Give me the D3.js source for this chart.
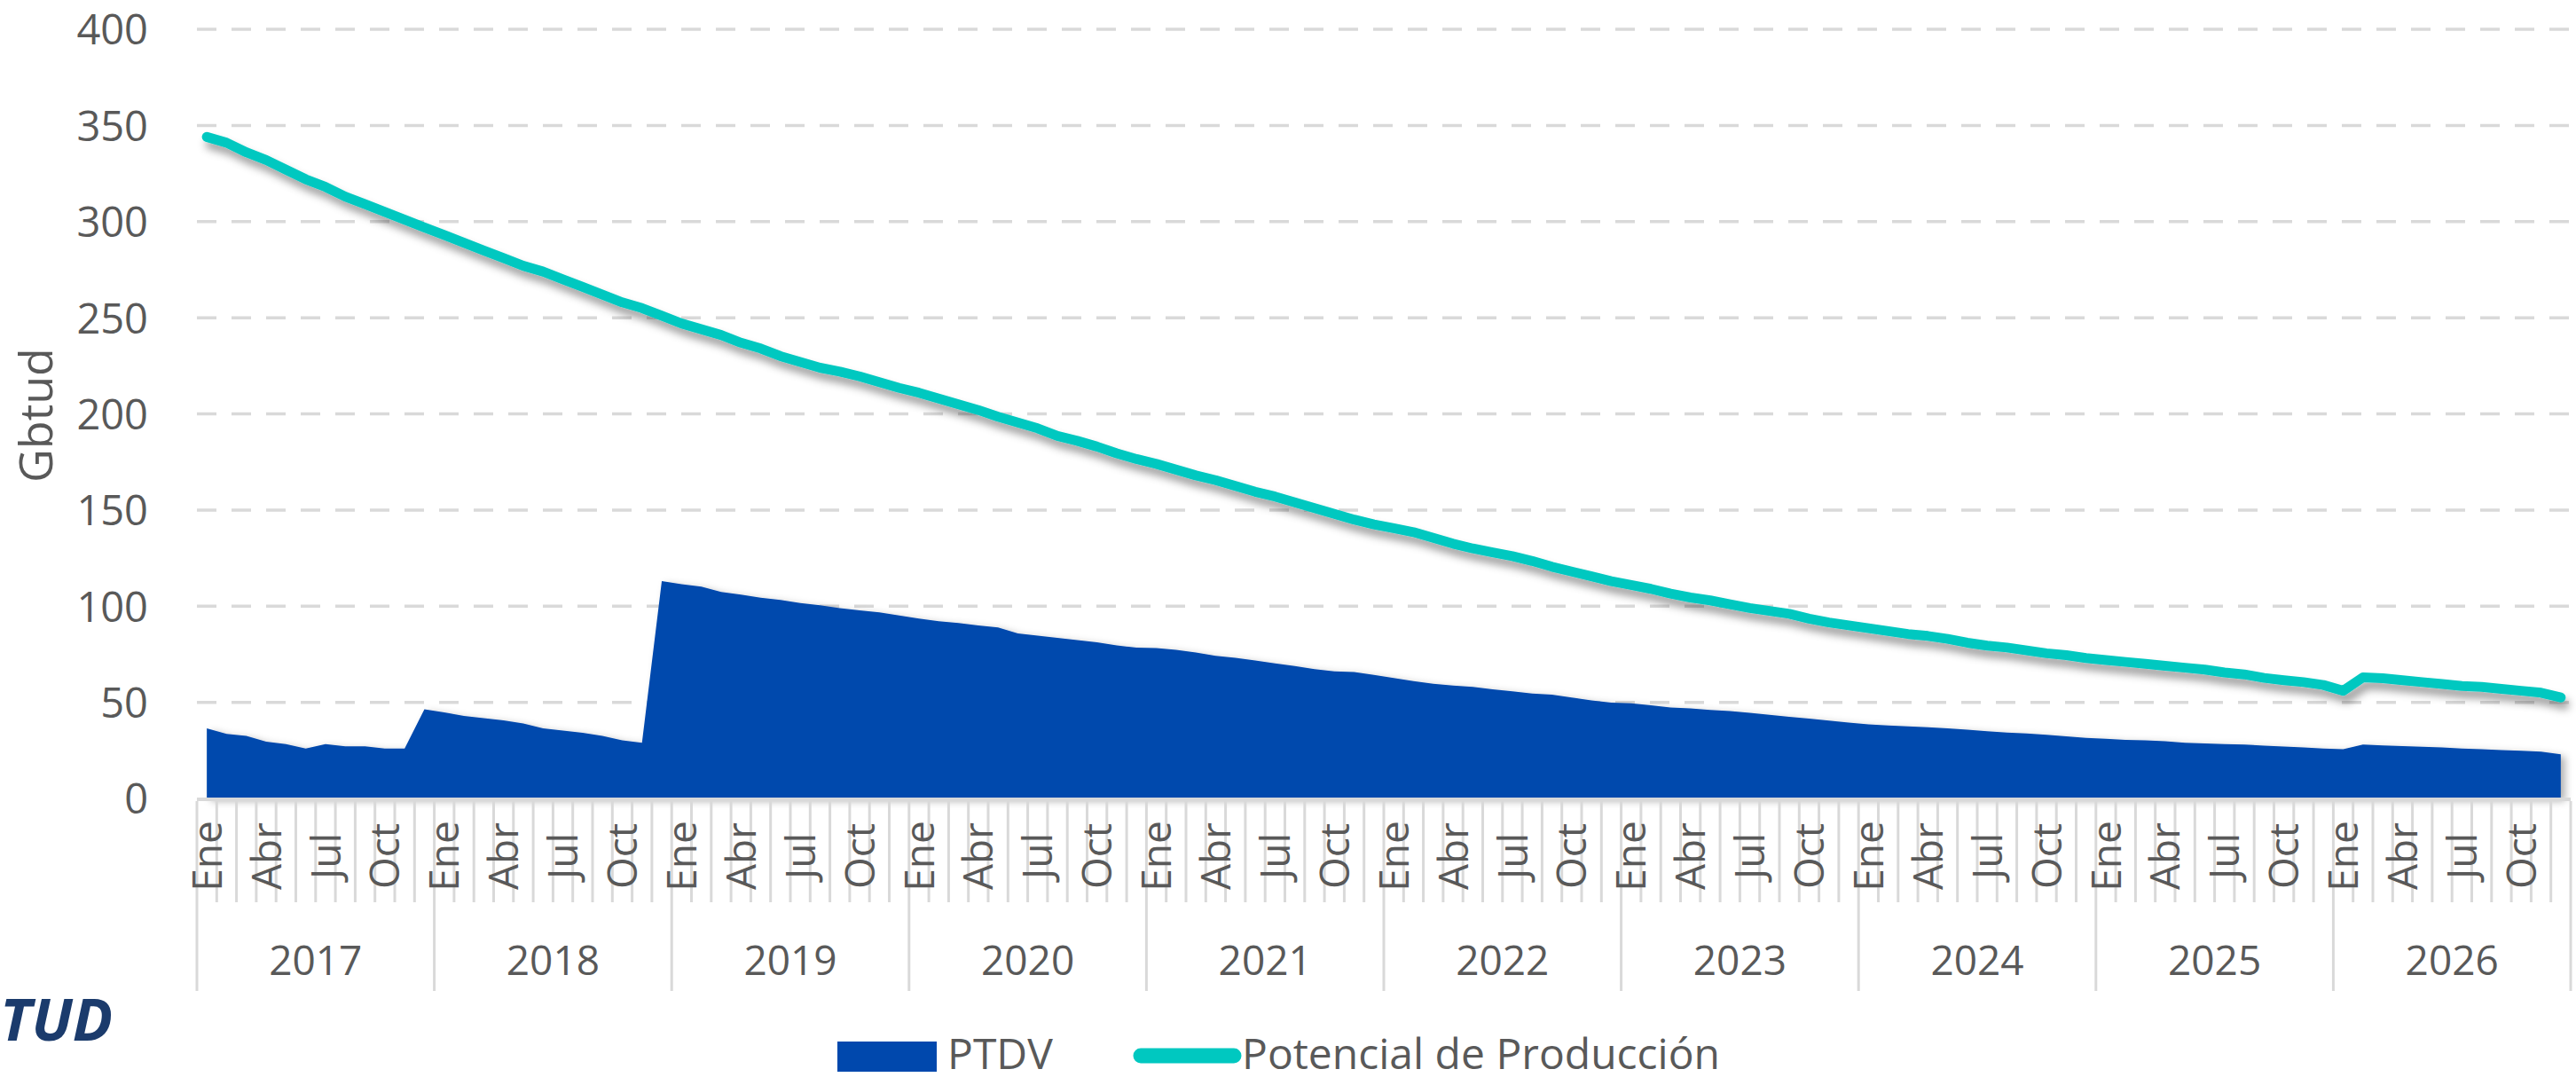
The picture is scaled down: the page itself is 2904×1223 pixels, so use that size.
<!DOCTYPE html>
<html>
<head>
<meta charset="utf-8">
<script src="https://cdn.jsdelivr.net/npm/d3@7"></script>
<style>
  html, body { margin: 0; padding: 0; background: #ffffff; }
  svg { display: block; }
  text { font-family: "Open Sans", "Noto Sans", sans-serif; }
</style>
</head>
<body>
<svg id="chart" width="2904" height="1223"></svg>
<script>
// ---- data ----
const years = [2017, 2018, 2019, 2020, 2021, 2022, 2023, 2024, 2025, 2026];
const monthNames = ["Ene","Feb","Mar","Abr","May","Jun","Jul","Ago","Sep","Oct","Nov","Dic"];
const yTicks = [0, 50, 100, 150, 200, 250, 300, 350, 400];
const seriesNames = ["PTDV", "Potencial de Producción"];
const yTitle = "Gbtud";
const cornerText = "TUD";

// PTDV (area), Gbtud, monthly Ene-2017 .. Dic-2026
const ptdv = [
  36.4, 33.6, 32.5, 29.5, 28.3, 26.0, 28.3, 27.1, 27.1, 26.0, 26.0, 46.4,
  44.8, 42.9, 41.8, 40.6, 39.0, 36.4, 35.3, 34.1, 32.5, 30.2, 29.0, 113.0,
  111.4, 110.2, 107.4, 106.0, 104.4, 103.2, 101.6, 100.5, 99.0, 97.8, 96.8, 95.1,
  93.5, 92.1, 91.2, 90.0, 88.9, 85.8, 84.7, 83.5, 82.4, 81.2, 79.6, 78.4,
  78.2, 77.3, 75.9, 74.2, 73.1, 71.7, 70.3, 68.9, 67.3, 66.1, 65.7, 64.3,
  62.6, 61.0, 59.6, 58.7, 58.0, 56.8, 55.7, 54.5, 54.0, 52.5, 51.0, 49.8,
  49.5, 48.5, 47.3, 46.8, 46.0, 45.5, 44.5, 43.5, 42.5, 41.5, 40.5, 39.5,
  38.5, 38.0, 37.5, 37.0, 36.5, 35.8, 35.0, 34.3, 33.8, 33.1, 32.3, 31.5,
  31.0, 30.5, 30.2, 29.8, 29.0, 28.6, 28.3, 28.0, 27.5, 27.0, 26.5, 26.0,
  25.6, 28.0, 27.6, 27.2, 26.9, 26.5, 26.0, 25.6, 25.2, 24.8, 24.3, 23.0
];

// Potencial de Producción (line), Gbtud
const potencial = [
  344, 341, 336, 332, 327, 322, 318, 313, 309, 305, 301, 297,
  293, 289, 285, 281, 277, 274, 270, 266, 262, 258, 255, 251,
  247, 244, 241, 237, 234, 230, 227, 224, 222, 219.5, 216.5, 213.5,
  211, 208, 205, 202, 198.5, 195.5, 192.5, 188.5, 186, 183, 179.5, 176.5,
  174, 171, 168, 165.5, 162.5, 159.5, 157, 154, 151, 148, 145, 142.5,
  140.5, 138.5, 135.5, 132.5, 130, 128, 126, 123.5, 120.5, 118, 115.5, 113,
  111, 109, 106.5, 104.5, 103, 101, 99, 97.5, 96, 93.5, 91.5, 90,
  88.5, 87, 85.5, 84.5, 83, 81, 79.5, 78.5, 77, 75.5, 74.5, 73,
  72, 71, 70, 69, 68, 67, 65.5, 64.5, 62.7, 61.5, 60.5, 59,
  56, 63, 62.5, 61.5, 60.5, 59.5, 58.5, 58, 57, 56, 55, 52.5
];

// ---- layout ----
const plot = { left: 222, right: 2898, top: 33, bottom: 900 };
const colors = { area: "#0048ad", line: "#00c8c0", grid: "#d9d9d9", text: "#595959", corner: "#1b3b6c" };

const categories = [];
years.forEach(y => monthNames.forEach((m, mi) => categories.push({ year: y, month: m, mi })));
const idx = categories.map((d, i) => i);

const svg = d3.select("#chart");
const defs = svg.append("defs");
const f1 = defs.append("filter").attr("id", "lineShadow")
  .attr("x", "-5%").attr("y", "-20%").attr("width", "110%").attr("height", "150%");
f1.append("feDropShadow").attr("dx", 4).attr("dy", 8).attr("stdDeviation", 5)
  .attr("flood-color", "#000").attr("flood-opacity", 0.38);
const f2 = defs.append("filter").attr("id", "areaShadow")
  .attr("x", "-5%").attr("y", "-10%").attr("width", "110%").attr("height", "130%");
f2.append("feDropShadow").attr("dx", 5).attr("dy", 3).attr("stdDeviation", 4)
  .attr("flood-color", "#000").attr("flood-opacity", 0.3);

const x = d3.scaleBand().domain(idx).range([plot.left, plot.right]).padding(0);
const xc = i => x(i) + x.bandwidth() / 2;
const y = d3.scaleLinear().domain([0, 400]).range([plot.bottom, plot.top]);

// y axis labels
const yAxis = d3.axisLeft(y).tickValues(yTicks).tickSize(0).tickPadding(0);
const gy = svg.append("g").attr("transform", `translate(${plot.left},0)`).call(yAxis);
gy.select(".domain").remove();
gy.selectAll(".tick line").remove();
gy.selectAll(".tick text")
  .attr("x", 167 - plot.left)
  .attr("dy", "0.36em")
  .attr("fill", colors.text)
  .style("font-size", "47px")
  .attr("text-anchor", "end");

// gridlines
svg.append("g").selectAll("line").data(yTicks.filter(v => v > 0)).join("line")
  .attr("x1", plot.left).attr("x2", plot.right)
  .attr("y1", d => y(d)).attr("y2", d => y(d))
  .attr("stroke", colors.grid).attr("stroke-width", 3.5)
  .attr("stroke-dasharray", "22 17");

// area
const area = d3.area().x((d, i) => xc(i)).y0(y(0)).y1(d => y(d));
svg.append("path").datum(ptdv).attr("d", area)
  .attr("fill", colors.area).attr("filter", "url(#areaShadow)");

// x axis baseline
svg.append("line").attr("x1", plot.left).attr("x2", plot.right)
  .attr("y1", y(0) + 1).attr("y2", y(0) + 1)
  .attr("stroke", colors.grid).attr("stroke-width", 4);

// month tick lines (category boundaries)
const boundaries = d3.range(categories.length + 1);
svg.append("g").selectAll("line").data(boundaries).join("line")
  .attr("x1", b => b < categories.length ? x(b) : plot.right)
  .attr("x2", b => b < categories.length ? x(b) : plot.right)
  .attr("y1", y(0) + 3)
  .attr("y2", b => (b % 12 === 0) ? 1117 : 1017)
  .attr("stroke", colors.grid).attr("stroke-width", 3);

// month labels
svg.append("g").selectAll("text").data(categories.map((c, i) => ({ c, i })).filter(d => d.c.mi % 3 === 0))
  .join("text")
  .attr("transform", d => `translate(${xc(d.i)},965) rotate(-90)`)
  .attr("text-anchor", "middle").attr("dy", "0.36em")
  .attr("fill", colors.text).style("font-size", "46px")
  .text(d => d.c.month);

// year labels
svg.append("g").selectAll("text").data(years).join("text")
  .attr("x", (yr, k) => (x(k * 12) + (k === years.length - 1 ? plot.right : x(k * 12 + 12))) / 2)
  .attr("y", 1082).attr("dy", "0.36em")
  .attr("text-anchor", "middle")
  .attr("fill", colors.text).style("font-size", "46px")
  .text(d => d);

// line
const line = d3.line().x((d, i) => xc(i)).y(d => y(d));
svg.append("path").datum(potencial).attr("d", line)
  .attr("fill", "none").attr("stroke", colors.line).attr("stroke-width", 11)
  .attr("stroke-linecap", "round").attr("stroke-linejoin", "round")
  .attr("filter", "url(#lineShadow)");

// y title
svg.append("text")
  .attr("transform", "translate(40,468) rotate(-90)")
  .attr("text-anchor", "middle").attr("dy", "0.36em")
  .attr("fill", colors.text).style("font-size", "52px")
  .text(yTitle);

// corner text
svg.append("text")
  .attr("x", 0).attr("y", 1173)
  .attr("fill", colors.corner)
  .style("font-size", "67px").style("font-weight", "bold").style("font-style", "italic")
  .text(cornerText);

// legend
const lg = svg.append("g");
lg.append("rect").attr("x", 944).attr("y", 1174).attr("width", 112).attr("height", 34)
  .attr("fill", colors.area);
lg.append("text").attr("x", 1068).attr("y", 1188).attr("dy", "0.36em")
  .attr("fill", colors.text).style("font-size", "48px").text(seriesNames[0]);
lg.append("line").attr("x1", 1286).attr("x2", 1391).attr("y1", 1190).attr("y2", 1190)
  .attr("stroke", colors.line).attr("stroke-width", 17).attr("stroke-linecap", "round");
lg.append("text").attr("x", 1400).attr("y", 1188).attr("dy", "0.36em")
  .attr("fill", colors.text).style("font-size", "48px").text(seriesNames[1]);
</script>
</body>
</html>
